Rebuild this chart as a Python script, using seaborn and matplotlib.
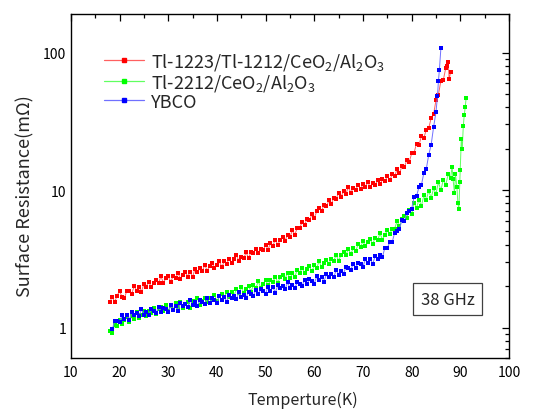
import matplotlib
matplotlib.use("Agg")
import matplotlib.pyplot as plt
from matplotlib.ticker import MultipleLocator, LogLocator, NullFormatter, FixedLocator
from matplotlib.lines import Line2D
import seaborn as sns
import pandas as pd

# Tl-1223/Tl-1212/CeO2/Al2O3 film
t_tl1223 = [18.0, 18.5, 19.0, 19.5, 20.0, 20.5, 21.0, 21.5, 22.0, 22.5, 23.0, 23.5, 24.0, 24.5,
            25.0, 25.5, 26.0, 26.5, 27.0, 27.5, 28.0, 28.5, 29.0, 29.5, 30.0, 30.5, 31.0, 31.5,
            32.0, 32.5, 33.0, 33.5, 34.0, 34.5, 35.0, 35.5, 36.0, 36.5, 37.0, 37.5, 38.0, 38.5,
            39.0, 39.5, 40.0, 40.5, 41.0, 41.5, 42.0, 42.5, 43.0, 43.5, 44.0, 44.5, 45.0, 45.5,
            46.0, 46.5, 47.0, 47.5, 48.0, 48.5, 49.0, 49.5, 50.0, 50.5, 51.0, 51.5, 52.0, 52.5,
            53.0, 53.5, 54.0, 54.5, 55.0, 55.5, 56.0, 56.5, 57.0, 57.5, 58.0, 58.5, 59.0, 59.5,
            60.0, 60.5, 61.0, 61.5, 62.0, 62.5, 63.0, 63.5, 64.0, 64.5, 65.0, 65.5, 66.0, 66.5,
            67.0, 67.5, 68.0, 68.5, 69.0, 69.5, 70.0, 70.5, 71.0, 71.5, 72.0, 72.5, 73.0, 73.5,
            74.0, 74.5, 75.0, 75.5, 76.0, 76.5, 77.0, 77.5, 78.0, 78.5, 79.0, 79.5, 80.0, 80.5,
            81.0, 81.5, 82.0, 82.5, 83.0, 83.5, 84.0, 84.5, 85.0, 85.5, 86.0, 86.5, 87.0, 87.3,
            87.5, 87.7, 88.0]
rs_tl1223 = [1.54, 1.67, 1.54, 1.71, 1.84, 1.68, 1.64, 1.86, 1.84, 1.77, 2.00, 1.86, 1.96, 1.83,
             2.08, 1.99, 2.16, 1.97, 2.10, 2.22, 2.10, 2.36, 2.12, 2.28, 2.37, 2.14, 2.37, 2.28,
             2.51, 2.26, 2.42, 2.55, 2.35, 2.55, 2.33, 2.69, 2.54, 2.70, 2.56, 2.87, 2.58, 2.82,
             2.94, 2.72, 2.86, 3.06, 2.74, 3.04, 2.92, 3.17, 2.94, 3.16, 3.37, 3.04, 3.28, 3.20,
             3.52, 3.20, 3.55, 3.47, 3.76, 3.48, 3.75, 3.64, 4.01, 3.69, 4.11, 3.95, 4.37, 4.00,
             4.34, 4.57, 4.30, 4.71, 4.56, 5.09, 4.75, 5.30, 5.29, 5.88, 5.57, 6.18, 6.01, 6.66,
             6.27, 6.99, 7.46, 7.06, 7.83, 7.61, 8.42, 7.93, 8.77, 8.67, 9.56, 8.93, 9.79, 9.41,
             10.49, 9.55, 10.40, 10.04, 10.92, 10.18, 11.02, 10.58, 11.45, 10.45, 11.32, 10.86, 11.75, 10.99,
             11.95, 11.56, 12.6, 11.8, 12.98, 12.6, 14.2, 13.2, 14.9, 14.6, 16.6, 16.0, 18.5, 18.7,
             21.8, 21.1, 24.7, 24.0, 27.3, 28.1, 33.3, 35.5, 45.0, 49.5, 62.0, 63.0, 77.0, 80.0,
             86.0, 64.0, 72.0]

# Tl-2212/CeO2/Al2O3 film
t_tl2212 = [18.0, 18.5, 19.0, 19.5, 20.0, 20.5, 21.0, 21.5, 22.0, 22.5, 23.0, 23.5, 24.0, 24.5,
            25.0, 25.5, 26.0, 26.5, 27.0, 27.5, 28.0, 28.5, 29.0, 29.5, 30.0, 30.5, 31.0, 31.5,
            32.0, 32.5, 33.0, 33.5, 34.0, 34.5, 35.0, 35.5, 36.0, 36.5, 37.0, 37.5, 38.0, 38.5,
            39.0, 39.5, 40.0, 40.5, 41.0, 41.5, 42.0, 42.5, 43.0, 43.5, 44.0, 44.5, 45.0, 45.5,
            46.0, 46.5, 47.0, 47.5, 48.0, 48.5, 49.0, 49.5, 50.0, 50.5, 51.0, 51.5, 52.0, 52.5,
            53.0, 53.5, 54.0, 54.5, 55.0, 55.5, 56.0, 56.5, 57.0, 57.5, 58.0, 58.5, 59.0, 59.5,
            60.0, 60.5, 61.0, 61.5, 62.0, 62.5, 63.0, 63.5, 64.0, 64.5, 65.0, 65.5, 66.0, 66.5,
            67.0, 67.5, 68.0, 68.5, 69.0, 69.5, 70.0, 70.5, 71.0, 71.5, 72.0, 72.5, 73.0, 73.5,
            74.0, 74.5, 75.0, 75.5, 76.0, 76.5, 77.0, 77.5, 78.0, 78.5, 79.0, 79.5, 80.0, 80.5,
            81.0, 81.5, 82.0, 82.5, 83.0, 83.5, 84.0, 84.5, 85.0, 85.5, 86.0, 86.5, 87.0, 87.5,
            88.0, 88.3, 88.5, 88.8, 89.0, 89.3, 89.5, 89.7, 89.9, 90.0, 90.2, 90.4, 90.6, 90.8,
            91.0, 91.2]
rs_tl2212 = [0.94, 0.91, 1.05, 1.02, 1.14, 1.06, 1.13, 1.19, 1.09, 1.22, 1.16, 1.30, 1.17, 1.245,
             1.32, 1.22, 1.33, 1.28, 1.40, 1.25, 1.37, 1.41, 1.33, 1.45, 1.33, 1.44, 1.35, 1.50,
             1.41, 1.54, 1.40, 1.48, 1.54, 1.40, 1.55, 1.47, 1.64, 1.47, 1.56, 1.65, 1.53, 1.65,
             1.59, 1.73, 1.55, 1.70, 1.76, 1.66, 1.82, 1.66, 1.81, 1.70, 1.90, 1.79, 1.96, 1.80,
             1.92, 2.00, 1.83, 2.03, 1.94, 2.17, 1.95, 2.08, 2.21, 2.04, 2.22, 2.15, 2.35, 2.12,
             2.33, 2.40, 2.27, 2.49, 2.28, 2.48, 2.35, 2.63, 2.49, 2.73, 2.51, 2.67, 2.79, 2.56,
             2.84, 2.72, 3.04, 2.74, 2.93, 3.12, 2.90, 3.16, 3.06, 3.38, 3.06, 3.39, 3.54, 3.37,
             3.73, 3.44, 3.77, 3.59, 4.04, 3.85, 4.24, 3.91, 4.19, 4.39, 4.04, 4.51, 4.32, 4.84,
             4.37, 4.72, 5.09, 4.77, 5.25, 5.24, 5.94, 5.45, 6.12, 6.50, 6.31, 7.19, 6.70, 8.10,
             7.41, 8.53, 7.64, 9.15, 8.45, 9.92, 8.74, 10.28, 9.40, 11.44, 9.94, 11.93, 10.9, 13.0,
             12.2, 14.8, 12.0, 9.5, 13.0, 10.5, 8.0, 7.3, 11.5, 14.0, 23.5, 20.0, 29.0, 35.0,
             40.0, 47.0]

# YBCO film
t_ybco = [18.5, 19.0, 19.5, 20.0, 20.5, 21.0, 21.5, 22.0, 22.5, 23.0, 23.5, 24.0, 24.5,
          25.0, 25.5, 26.0, 26.5, 27.0, 27.5, 28.0, 28.5, 29.0, 29.5, 30.0, 30.5, 31.0, 31.5,
          32.0, 32.5, 33.0, 33.5, 34.0, 34.5, 35.0, 35.5, 36.0, 36.5, 37.0, 37.5, 38.0, 38.5,
          39.0, 39.5, 40.0, 40.5, 41.0, 41.5, 42.0, 42.5, 43.0, 43.5, 44.0, 44.5, 45.0, 45.5,
          46.0, 46.5, 47.0, 47.5, 48.0, 48.5, 49.0, 49.5, 50.0, 50.5, 51.0, 51.5, 52.0, 52.5,
          53.0, 53.5, 54.0, 54.5, 55.0, 55.5, 56.0, 56.5, 57.0, 57.5, 58.0, 58.5, 59.0, 59.5,
          60.0, 60.5, 61.0, 61.5, 62.0, 62.5, 63.0, 63.5, 64.0, 64.5, 65.0, 65.5, 66.0, 66.5,
          67.0, 67.5, 68.0, 68.5, 69.0, 69.5, 70.0, 70.5, 71.0, 71.5, 72.0, 72.5, 73.0, 73.5,
          74.0, 74.5, 75.0, 75.5, 76.0, 76.5, 77.0, 77.5, 78.0, 78.5, 79.0, 79.5, 80.0, 80.5,
          81.0, 81.5, 82.0, 82.5, 83.0, 83.5, 84.0, 84.5, 85.0, 85.3, 85.5, 85.7, 86.0]
rs_ybco = [0.97, 1.12, 1.12, 1.09, 1.23, 1.16, 1.23, 1.14, 1.29, 1.23, 1.28, 1.21, 1.36,
           1.24, 1.30, 1.24, 1.36, 1.32, 1.28, 1.41, 1.30, 1.40, 1.355, 1.29, 1.45, 1.35, 1.44,
           1.33, 1.50, 1.43, 1.48, 1.41, 1.59, 1.46, 1.53, 1.44, 1.59, 1.53, 1.48, 1.63, 1.51,
           1.63, 1.58, 1.51, 1.70, 1.59, 1.68, 1.54, 1.73, 1.64, 1.70, 1.61, 1.81, 1.66, 1.74,
           1.65, 1.83, 1.77, 1.71, 1.89, 1.76, 1.90, 1.845, 1.77, 1.99, 1.85, 1.96, 1.80, 2.03,
           1.93, 2.00, 1.90, 2.13, 1.94, 2.04, 1.94, 2.14, 2.08, 2.02, 2.23, 2.08, 2.25, 2.18,
           2.09, 2.36, 2.21, 2.34, 2.16, 2.45, 2.34, 2.44, 2.32, 2.63, 2.43, 2.58, 2.47, 2.76,
           2.70, 2.63, 2.92, 2.73, 2.96, 2.885, 2.77, 3.14, 2.94, 3.14, 2.91, 3.31, 3.17, 3.37,
           3.26, 3.82, 3.78, 4.19, 4.18, 4.89, 5.00, 5.18, 6.09, 5.92, 6.76, 7.00, 7.32, 8.90,
           9.02, 10.5, 10.85, 13.3, 14.2, 18.0, 21.3, 28.6, 37.0, 48.0, 62.0, 75.0, 107.0]

labels = [r"Tl-1223/Tl-1212/CeO$_2$/Al$_2$O$_3$",
          r"Tl-2212/CeO$_2$/Al$_2$O$_3$",
          "YBCO"]
colors = ["#ff0000", "#00ff00", "#0000ff"]
line_colors = ["#ff6060", "#60ff60", "#7070ff"]

frames = []
for lab, t, r in zip(labels, [t_tl1223, t_tl2212, t_ybco], [rs_tl1223, rs_tl2212, rs_ybco]):
    frames.append(pd.DataFrame({"T": t, "Rs": r, "sample": lab}))
df = pd.concat(frames, ignore_index=True)

sns.set_style("white")
plt.rcParams["font.family"] = ["Noto Sans CJK JP", "DejaVu Sans"]
plt.rcParams["mathtext.fontset"] = "custom"
plt.rcParams["mathtext.rm"] = "Noto Sans CJK JP"
plt.rcParams["mathtext.it"] = "Noto Sans CJK JP"

fig = plt.figure(figsize=(5.33, 4.10), dpi=100)
ax = fig.add_axes([0.133, 0.124, 0.822, 0.839])

sns.lineplot(data=df, x="T", y="Rs", hue="sample", hue_order=labels,
             palette=dict(zip(labels, colors)), estimator=None, sort=False,
             marker="s", markersize=2.7, markeredgewidth=0, linewidth=0.7,
             legend=False, ax=ax)

for ln, c, lc in zip(ax.lines, colors, line_colors):
    ln.set_color(lc)
    ln.set_markerfacecolor(c)
    ln.set_markeredgecolor(c)

ax.set_yscale("log")
ax.set_xlim(10, 100)
ax.set_ylim(0.6, 190)

ax.xaxis.set_major_locator(MultipleLocator(10))
ax.xaxis.set_minor_locator(MultipleLocator(5))
ax.yaxis.set_major_locator(FixedLocator([1, 10, 100]))
ax.yaxis.set_minor_locator(LogLocator(base=10, subs=range(2, 10)))
ax.yaxis.set_minor_formatter(NullFormatter())
ax.set_yticklabels(["1", "10", "100"])

ax.tick_params(which="both", direction="in", top=True, right=True,
               colors="black", labelsize=10, width=0.9)
ax.tick_params(which="major", length=5)
ax.tick_params(which="minor", length=3)
ax.tick_params(axis="x", which="major", pad=5)
for sp in ax.spines.values():
    sp.set_color("black")
    sp.set_linewidth(1.0)

ax.set_xlabel("Temperture(K)", fontsize=11.5)
ax.xaxis.set_label_coords(0.53, -0.095)
ax.set_ylabel("Surface Resistance(mΩ)", fontsize=13)
ax.yaxis.set_label_coords(-0.082, 0.474)

handles = [Line2D([0], [0], color=lc, lw=0.9, marker="s", markersize=2.6,
                  markerfacecolor=c, markeredgecolor=c)
           for c, lc in zip(colors, line_colors)]
ax.legend(handles, labels, loc="upper left", bbox_to_anchor=(0.06, 0.915),
          frameon=False, fontsize=13, handlelength=2.2, handletextpad=0.4,
          labelspacing=0.0, borderaxespad=0.0)

ax.text(0.921, 0.1715, "38 GHz", transform=ax.transAxes, ha="right", va="center",
        fontsize=12,
        bbox=dict(boxstyle="square,pad=0.45", facecolor="white", edgecolor="#404040", linewidth=0.9))

fig.savefig("out.png", dpi=100)
